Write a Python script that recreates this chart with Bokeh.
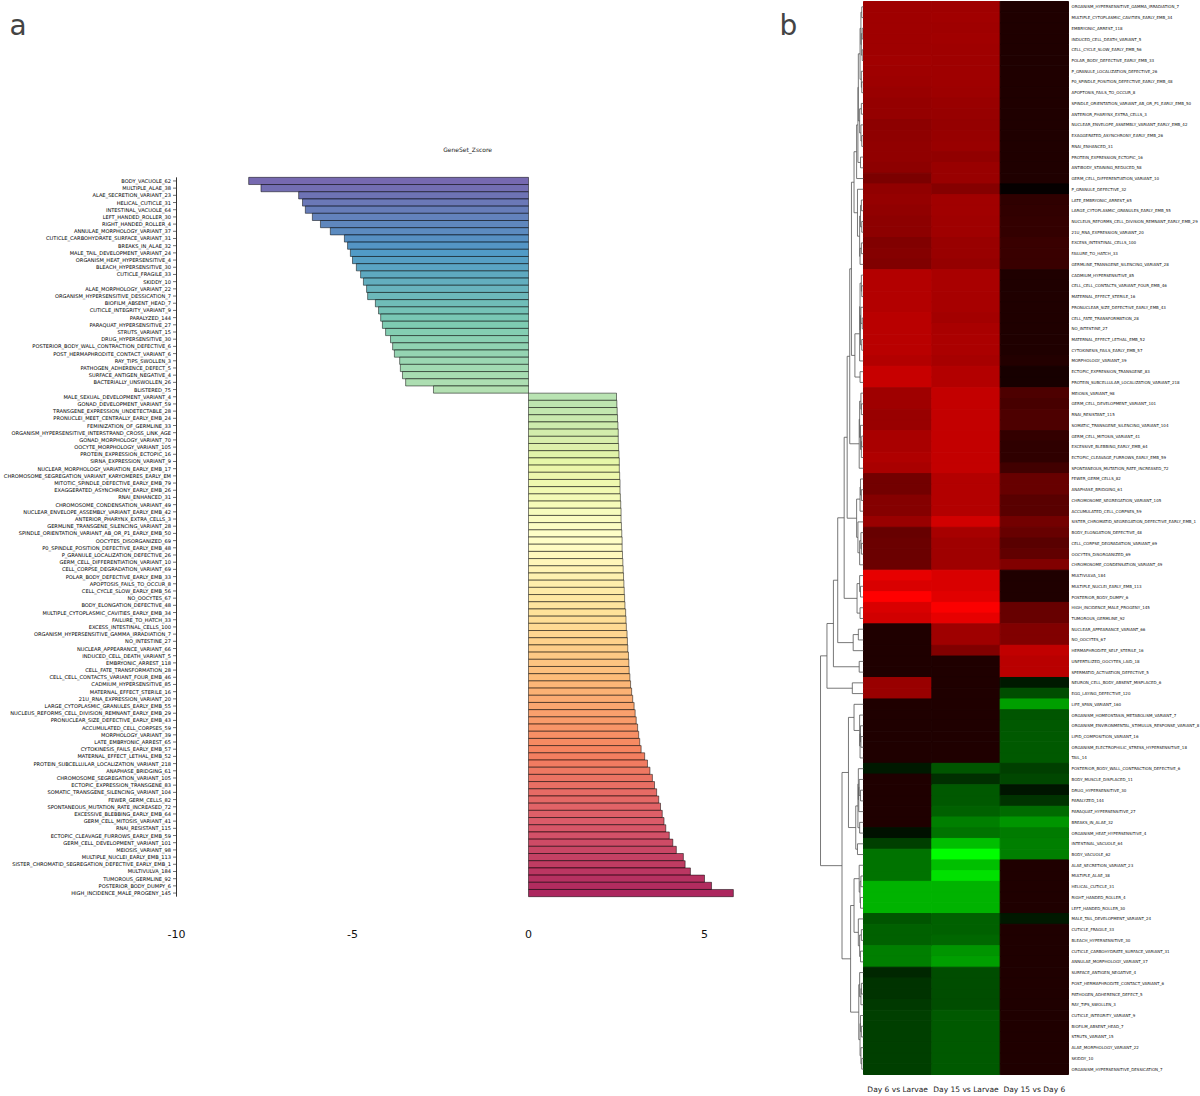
from bokeh.plotting import figure
from bokeh.layouts import row
from bokeh.models import Range1d, FixedTicker, Label, ColumnDataSource
from bokeh.transform import linear_cmap
from bokeh.core.properties import value
from bokeh.embed import file_html
from bokeh.resources import INLINE

# ---------------- panel a data ----------------
geneset_names = [
    "BODY_VACUOLE_62", "MULTIPLE_ALAE_38", "ALAE_SECRETION_VARIANT_23", "HELICAL_CUTICLE_31",
    "INTESTINAL_VACUOLE_64", "LEFT_HANDED_ROLLER_30", "RIGHT_HANDED_ROLLER_4",
    "ANNULAE_MORPHOLOGY_VARIANT_37", "CUTICLE_CARBOHYDRATE_SURFACE_VARIANT_31", "BREAKS_IN_ALAE_32",
    "MALE_TAIL_DEVELOPMENT_VARIANT_24", "ORGANISM_HEAT_HYPERSENSITIVE_4", "BLEACH_HYPERSENSITIVE_30",
    "CUTICLE_FRAGILE_33", "SKIDDY_10", "ALAE_MORPHOLOGY_VARIANT_22",
    "ORGANISM_HYPERSENSITIVE_DESSICATION_7", "BIOFILM_ABSENT_HEAD_7", "CUTICLE_INTEGRITY_VARIANT_9",
    "PARALYZED_144", "PARAQUAT_HYPERSENSITIVE_27", "STRUTS_VARIANT_15", "DRUG_HYPERSENSITIVE_30",
    "POSTERIOR_BODY_WALL_CONTRACTION_DEFECTIVE_6", "POST_HERMAPHRODITE_CONTACT_VARIANT_6",
    "RAY_TIPS_SWOLLEN_3", "PATHOGEN_ADHERENCE_DEFECT_5", "SURFACE_ANTIGEN_NEGATIVE_4",
    "BACTERIALLY_UNSWOLLEN_26", "BLISTERED_75", "MALE_SEXUAL_DEVELOPMENT_VARIANT_4",
    "GONAD_DEVELOPMENT_VARIANT_59", "TRANSGENE_EXPRESSION_UNDETECTABLE_28",
    "PRONUCLEI_MEET_CENTRALLY_EARLY_EMB_24", "FEMINIZATION_OF_GERMLINE_33",
    "ORGANISM_HYPERSENSITIVE_INTERSTRAND_CROSS_LINK_AGE", "GONAD_MORPHOLOGY_VARIANT_70",
    "OOCYTE_MORPHOLOGY_VARIANT_105", "PROTEIN_EXPRESSION_ECTOPIC_16", "SIRNA_EXPRESSION_VARIANT_9",
    "NUCLEAR_MORPHOLOGY_VARIATION_EARLY_EMB_17", "CHROMOSOME_SEGREGATION_VARIANT_KARYOMERES_EARLY_EM",
    "MITOTIC_SPINDLE_DEFECTIVE_EARLY_EMB_79", "EXAGGERATED_ASYNCHRONY_EARLY_EMB_26", "RNAI_ENHANCED_31",
    "CHROMOSOME_CONDENSATION_VARIANT_49", "NUCLEAR_ENVELOPE_ASSEMBLY_VARIANT_EARLY_EMB_42",
    "ANTERIOR_PHARYNX_EXTRA_CELLS_3", "GERMLINE_TRANSGENE_SILENCING_VARIANT_28",
    "SPINDLE_ORIENTATION_VARIANT_AB_OR_P1_EARLY_EMB_50", "OOCYTES_DISORGANIZED_69",
    "P0_SPINDLE_POSITION_DEFECTIVE_EARLY_EMB_48", "P_GRANULE_LOCALIZATION_DEFECTIVE_26",
    "GERM_CELL_DIFFERENTIATION_VARIANT_10", "CELL_CORPSE_DEGRADATION_VARIANT_69",
    "POLAR_BODY_DEFECTIVE_EARLY_EMB_33", "APOPTOSIS_FAILS_TO_OCCUR_8", "CELL_CYCLE_SLOW_EARLY_EMB_56",
    "NO_OOCYTES_67", "BODY_ELONGATION_DEFECTIVE_48", "MULTIPLE_CYTOPLASMIC_CAVITIES_EARLY_EMB_34",
    "FAILURE_TO_HATCH_33", "EXCESS_INTESTINAL_CELLS_100", "ORGANISM_HYPERSENSITIVE_GAMMA_IRRADIATION_7",
    "NO_INTESTINE_27", "NUCLEAR_APPEARANCE_VARIANT_66", "INDUCED_CELL_DEATH_VARIANT_5",
    "EMBRYONIC_ARREST_118", "CELL_FATE_TRANSFORMATION_28", "CELL_CELL_CONTACTS_VARIANT_FOUR_EMB_46",
    "CADMIUM_HYPERSENSITIVE_85", "MATERNAL_EFFECT_STERILE_16", "21U_RNA_EXPRESSION_VARIANT_20",
    "LARGE_CYTOPLASMIC_GRANULES_EARLY_EMB_55", "NUCLEUS_REFORMS_CELL_DIVISION_REMNANT_EARLY_EMB_29",
    "PRONUCLEAR_SIZE_DEFECTIVE_EARLY_EMB_43", "ACCUMULATED_CELL_CORPSES_59", "MORPHOLOGY_VARIANT_39",
    "LATE_EMBRYONIC_ARREST_65", "CYTOKINESIS_FAILS_EARLY_EMB_57", "MATERNAL_EFFECT_LETHAL_EMB_52",
    "PROTEIN_SUBCELLULAR_LOCALIZATION_VARIANT_218", "ANAPHASE_BRIDGING_61",
    "CHROMOSOME_SEGREGATION_VARIANT_105", "ECTOPIC_EXPRESSION_TRANSGENE_83",
    "SOMATIC_TRANSGENE_SILENCING_VARIANT_104", "FEWER_GERM_CELLS_82",
    "SPONTANEOUS_MUTATION_RATE_INCREASED_72", "EXCESSIVE_BLEBBING_EARLY_EMB_64",
    "GERM_CELL_MITOSIS_VARIANT_41", "RNAI_RESISTANT_115", "ECTOPIC_CLEAVAGE_FURROWS_EARLY_EMB_59",
    "GERM_CELL_DEVELOPMENT_VARIANT_101", "MEIOSIS_VARIANT_98", "MULTIPLE_NUCLEI_EARLY_EMB_113",
    "SISTER_CHROMATID_SEGREGATION_DEFECTIVE_EARLY_EMB_1", "MULTIVULVA_184", "TUMOROUS_GERMLINE_92",
    "POSTERIOR_BODY_DUMPY_6", "HIGH_INCIDENCE_MALE_PROGENY_145",
]

geneset_z = [
    -7.95, -7.60, -6.53, -6.42, -6.34, -6.14, -5.91, -5.63, -5.23, -5.14,
    -5.06, -5.00, -4.89, -4.77, -4.69, -4.60, -4.57, -4.35, -4.26, -4.20,
    -4.15, -4.06, -3.92, -3.86, -3.81, -3.66, -3.64, -3.58, -3.49, -2.70,
    2.50, 2.51, 2.52, 2.53, 2.54, 2.55, 2.55, 2.56, 2.57, 2.58,
    2.58, 2.59, 2.60, 2.60, 2.61, 2.62, 2.63, 2.63, 2.64, 2.65,
    2.66, 2.66, 2.67, 2.68, 2.69, 2.70, 2.71, 2.72, 2.73, 2.74,
    2.76, 2.77, 2.78, 2.80, 2.81, 2.82, 2.84, 2.85, 2.86, 2.88,
    2.90, 2.93, 2.96, 3.00, 3.03, 3.06, 3.10, 3.13, 3.16, 3.20,
    3.30, 3.38, 3.45, 3.52, 3.58, 3.64, 3.70, 3.75, 3.80, 3.85,
    3.90, 4.00, 4.10, 4.20, 4.40, 4.45, 4.60, 5.00, 5.20, 5.82,
]

zscore_ticks = [-10, -5, 0, 5]
zscore_tick_labels = ["-10", "-5", "0", "5"]

# ---------------- panel b data ----------------
heat_rows = [
    "ORGANISM_HYPERSENSITIVE_GAMMA_IRRADIATION_7", "MULTIPLE_CYTOPLASMIC_CAVITIES_EARLY_EMB_34",
    "EMBRYONIC_ARREST_118", "INDUCED_CELL_DEATH_VARIANT_5", "CELL_CYCLE_SLOW_EARLY_EMB_56",
    "POLAR_BODY_DEFECTIVE_EARLY_EMB_33", "P_GRANULE_LOCALIZATION_DEFECTIVE_26",
    "P0_SPINDLE_POSITION_DEFECTIVE_EARLY_EMB_48", "APOPTOSIS_FAILS_TO_OCCUR_8",
    "SPINDLE_ORIENTATION_VARIANT_AB_OR_P1_EARLY_EMB_50", "ANTERIOR_PHARYNX_EXTRA_CELLS_3",
    "NUCLEAR_ENVELOPE_ASSEMBLY_VARIANT_EARLY_EMB_42", "EXAGGERATED_ASYNCHRONY_EARLY_EMB_26",
    "RNAI_ENHANCED_31", "PROTEIN_EXPRESSION_ECTOPIC_16", "ANTIBODY_STAINING_REDUCED_58",
    "GERM_CELL_DIFFERENTIATION_VARIANT_10", "P_GRANULE_DEFECTIVE_32", "LATE_EMBRYONIC_ARREST_65",
    "LARGE_CYTOPLASMIC_GRANULES_EARLY_EMB_55", "NUCLEUS_REFORMS_CELL_DIVISION_REMNANT_EARLY_EMB_29",
    "21U_RNA_EXPRESSION_VARIANT_20", "EXCESS_INTESTINAL_CELLS_100", "FAILURE_TO_HATCH_33",
    "GERMLINE_TRANSGENE_SILENCING_VARIANT_28", "CADMIUM_HYPERSENSITIVE_85",
    "CELL_CELL_CONTACTS_VARIANT_FOUR_EMB_46", "MATERNAL_EFFECT_STERILE_16",
    "PRONUCLEAR_SIZE_DEFECTIVE_EARLY_EMB_43", "CELL_FATE_TRANSFORMATION_28", "NO_INTESTINE_27",
    "MATERNAL_EFFECT_LETHAL_EMB_52", "CYTOKINESIS_FAILS_EARLY_EMB_57", "MORPHOLOGY_VARIANT_39",
    "ECTOPIC_EXPRESSION_TRANSGENE_83", "PROTEIN_SUBCELLULAR_LOCALIZATION_VARIANT_218",
    "MEIOSIS_VARIANT_98", "GERM_CELL_DEVELOPMENT_VARIANT_101", "RNAI_RESISTANT_115",
    "SOMATIC_TRANSGENE_SILENCING_VARIANT_104", "GERM_CELL_MITOSIS_VARIANT_41",
    "EXCESSIVE_BLEBBING_EARLY_EMB_64", "ECTOPIC_CLEAVAGE_FURROWS_EARLY_EMB_59",
    "SPONTANEOUS_MUTATION_RATE_INCREASED_72", "FEWER_GERM_CELLS_82", "ANAPHASE_BRIDGING_61",
    "CHROMOSOME_SEGREGATION_VARIANT_105", "ACCUMULATED_CELL_CORPSES_59",
    "SISTER_CHROMATID_SEGREGATION_DEFECTIVE_EARLY_EMB_1", "BODY_ELONGATION_DEFECTIVE_48",
    "CELL_CORPSE_DEGRADATION_VARIANT_69", "OOCYTES_DISORGANIZED_69",
    "CHROMOSOME_CONDENSATION_VARIANT_49", "MULTIVULVA_184", "MULTIPLE_NUCLEI_EARLY_EMB_113",
    "POSTERIOR_BODY_DUMPY_6", "HIGH_INCIDENCE_MALE_PROGENY_145", "TUMOROUS_GERMLINE_92",
    "NUCLEAR_APPEARANCE_VARIANT_66", "NO_OOCYTES_67", "HERMAPHRODITE_SELF_STERILE_16",
    "UNFERTILIZED_OOCYTES_LAID_18", "SPERMATID_ACTIVATION_DEFECTIVE_5",
    "NEURON_CELL_BODY_ABSENT_MISPLACED_6", "EGG_LAYING_DEFECTIVE_120", "LIFE_SPAN_VARIANT_160",
    "ORGANISM_HOMEOSTASIS_METABOLISM_VARIANT_7", "ORGANISM_ENVIRONMENTAL_STIMULUS_RESPONSE_VARIANT_8",
    "LIPID_COMPOSITION_VARIANT_16", "ORGANISM_ELECTROPHILIC_STRESS_HYPERSENSITIVE_18", "TAIL_14",
    "POSTERIOR_BODY_WALL_CONTRACTION_DEFECTIVE_6", "BODY_MUSCLE_DISPLACED_11",
    "DRUG_HYPERSENSITIVE_30", "PARALYZED_144", "PARAQUAT_HYPERSENSITIVE_27", "BREAKS_IN_ALAE_32",
    "ORGANISM_HEAT_HYPERSENSITIVE_4", "INTESTINAL_VACUOLE_64", "BODY_VACUOLE_62",
    "ALAE_SECRETION_VARIANT_23", "MULTIPLE_ALAE_38", "HELICAL_CUTICLE_31", "RIGHT_HANDED_ROLLER_4",
    "LEFT_HANDED_ROLLER_30", "MALE_TAIL_DEVELOPMENT_VARIANT_24", "CUTICLE_FRAGILE_33",
    "BLEACH_HYPERSENSITIVE_30", "CUTICLE_CARBOHYDRATE_SURFACE_VARIANT_31",
    "ANNULAE_MORPHOLOGY_VARIANT_37", "SURFACE_ANTIGEN_NEGATIVE_4",
    "POST_HERMAPHRODITE_CONTACT_VARIANT_6", "PATHOGEN_ADHERENCE_DEFECT_5", "RAY_TIPS_SWOLLEN_3",
    "CUTICLE_INTEGRITY_VARIANT_9", "BIOFILM_ABSENT_HEAD_7", "STRUTS_VARIANT_15",
    "ALAE_MORPHOLOGY_VARIANT_22", "SKIDDY_10", "ORGANISM_HYPERSENSITIVE_DESSICATION_7",
]

heat_columns = ["Day 6 vs Larvae", "Day 15 vs Larvae", "Day 15 vs Day 6"]

day6_vs_larvae = [
    0.62, 0.62, 0.62, 0.62, 0.62, 0.63, 0.62, 0.61, 0.60, 0.58,
    0.58, 0.55, 0.56, 0.57, 0.57, 0.55, 0.48, 0.57, 0.58, 0.57,
    0.55, 0.55, 0.50, 0.52, 0.50, 0.70, 0.70, 0.70, 0.70, 0.72,
    0.72, 0.72, 0.72, 0.70, 0.78, 0.78, 0.62, 0.62, 0.60, 0.60,
    0.66, 0.66, 0.68, 0.66, 0.45, 0.45, 0.52, 0.52, 0.60, 0.40,
    0.42, 0.42, 0.42, 0.90, 0.85, 1.00, 0.85, 0.82, 0.12, 0.12,
    0.12, 0.12, 0.12, 0.60, 0.60, 0.12, 0.12, 0.12, 0.12, 0.12,
    0.12, -0.10, 0.12, 0.12, 0.12, 0.12, 0.12, -0.07, -0.25, -0.45,
    -0.45, -0.45, -0.70, -0.70, -0.70, -0.33, -0.38, -0.38, -0.50, -0.50,
    -0.15, -0.20, -0.20, -0.22, -0.25, -0.25, -0.25, -0.25, -0.25, -0.25,
]
day15_vs_larvae = [
    0.62, 0.63, 0.62, 0.63, 0.62, 0.62, 0.62, 0.62, 0.61, 0.60,
    0.59, 0.58, 0.59, 0.60, 0.57, 0.60, 0.60, 0.52, 0.63, 0.63,
    0.62, 0.62, 0.60, 0.60, 0.58, 0.66, 0.66, 0.65, 0.65, 0.64,
    0.66, 0.67, 0.67, 0.65, 0.70, 0.70, 0.76, 0.76, 0.76, 0.76,
    0.76, 0.76, 0.76, 0.76, 0.70, 0.70, 0.70, 0.70, 0.82, 0.65,
    0.62, 0.62, 0.62, 0.85, 0.85, 0.88, 0.98, 0.90, 0.62, 0.62,
    0.50, 0.12, 0.12, 0.12, 0.12, 0.12, 0.12, 0.12, 0.12, 0.12,
    0.12, -0.33, -0.18, -0.35, -0.35, -0.38, -0.50, -0.45, -0.75, -1.00,
    -0.75, -0.88, -0.70, -0.70, -0.70, -0.38, -0.38, -0.40, -0.58, -0.62,
    -0.30, -0.30, -0.30, -0.30, -0.35, -0.35, -0.35, -0.35, -0.35, -0.35,
]
day15_vs_day6 = [
    0.12, 0.12, 0.12, 0.12, 0.12, 0.12, 0.12, 0.12, 0.12, 0.12,
    0.12, 0.12, 0.12, 0.12, 0.12, 0.12, 0.12, 0.02, 0.18, 0.19,
    0.20, 0.20, 0.22, 0.22, 0.22, 0.12, 0.12, 0.12, 0.12, 0.12,
    0.12, 0.12, 0.12, 0.14, 0.09, 0.09, 0.30, 0.28, 0.30, 0.30,
    0.20, 0.18, 0.18, 0.25, 0.40, 0.40, 0.35, 0.35, 0.45, 0.40,
    0.35, 0.38, 0.50, 0.12, 0.12, 0.12, 0.40, 0.40, 0.50, 0.50,
    0.75, 0.72, 0.72, -0.10, -0.30, -0.62, -0.33, -0.35, -0.35, -0.35,
    -0.35, -0.25, -0.28, -0.08, -0.20, -0.42, -0.58, -0.48, -0.50, -0.50,
    0.12, 0.12, 0.12, 0.12, 0.12, -0.10, 0.12, 0.12, 0.12, 0.12,
    0.12, 0.12, 0.12, 0.12, 0.12, 0.12, 0.12, 0.12, 0.12, 0.12,
]

# cophenetic height at which row i and row i+1 join in the row dendrogram
gap_heights = [
    0.4, 0.6, 0.3, 0.5, 0.3, 0.8, 0.5, 0.4, 1.2, 0.5, 0.9, 0.6, 0.4, 1.3, 0.7, 1.6,
    2.2,
    1.4, 0.5, 0.7, 0.4, 0.9, 0.5, 0.8,
    2.8,
    0.5, 0.4, 0.8, 0.6, 0.3, 0.7, 0.4, 0.9,
    2.0, 0.8, 3.2,
    0.6, 0.5, 0.9, 0.7, 0.4, 0.5, 1.0,
    3.8,
    0.7, 0.5, 0.8, 1.6, 1.3, 0.6, 0.5, 0.9,
    4.5,
    0.9, 0.7, 1.5, 0.8,
    6.0,
    1.2, 2.4,
    7.0,
    1.0,
    8.5,
    2.6,
    10.0,
    2.2, 0.9, 0.7, 0.6, 0.8,
    3.5,
    1.2, 1.0, 0.7, 1.1, 1.3, 0.9, 1.8, 1.4,
    5.0,
    1.0, 0.6, 0.8, 0.7,
    2.2,
    1.2, 0.5, 0.9, 0.7,
    3.0,
    0.9, 0.5, 0.6, 1.1, 0.7, 0.5, 0.8, 0.6, 0.4,
]

# ---------------- styles ----------------
SPECTRAL = ['#5e4fa2', '#3288bd', '#66c2a5', '#abdda4', '#e6f598', '#ffffbf',
            '#fee08b', '#fdae61', '#f46d43', '#d53e4f', '#9e0142']
FONT = "DejaVu Sans"


def interp_colors(pal, n):
    rgb = [tuple(int(c[i:i + 2], 16) for i in (1, 3, 5)) for c in pal]
    out = []
    for k in range(n):
        t = k / (n - 1) * (len(rgb) - 1)
        i = min(int(t), len(rgb) - 2)
        f = t - i
        c = [round(rgb[i][j] + (rgb[i + 1][j] - rgb[i][j]) * f) for j in range(3)]
        out.append('#%02x%02x%02x' % tuple(c))
    return out


def red_green_palette(n=256):
    pal = []
    for i in range(n):
        t = -1 + 2 * i / (n - 1)
        if t < 0:
            pal.append('#00%02x00' % round(-t * 255))
        else:
            pal.append('#%02x0000' % round(t * 255))
    return pal


FIG_H = 1096
BOTTOM = 14          # room for the column labels of panel b (shared by both panels)
FRAME_H = FIG_H - BOTTOM

# ---------------- panel a ----------------
W1 = 775
PX_PER_Z = 35.2      # pixels per z unit
PX_PER_BAR = 7.24    # pixels per bar
AXIS_PX = 176        # y-axis position inside the panel (pixels from the left)
BAR_TOP_PX = 178     # top edge of the first bar (pixels from the top)

x1_start = -10 - AXIS_PX / PX_PER_Z
x1_end = x1_start + W1 / PX_PER_Z
y1_top = -0.5 - BAR_TOP_PX / PX_PER_BAR
y1_bottom = y1_top + FRAME_H / PX_PER_BAR

n_bars = len(geneset_names)
bar_pos = list(range(n_bars))
bar_src = ColumnDataSource(dict(y=bar_pos, z=geneset_z, color=interp_colors(SPECTRAL, n_bars)))

p1 = figure(width=W1, height=FIG_H, x_range=Range1d(x1_start, x1_end),
            y_range=Range1d(y1_bottom, y1_top), output_backend="svg", toolbar_location=None,
            min_border_left=0, min_border_right=0, min_border_top=0, min_border_bottom=BOTTOM)
p1.axis.visible = False
p1.xgrid.visible = False
p1.ygrid.visible = False
p1.outline_line_color = None

p1.hbar(y='y', left=0, right='z', height=1.0, fill_color='color', fill_alpha=0.85,
        line_color='black', line_width=0.5, source=bar_src)

# left spine with outward ticks and gene-set labels
p1.segment(x0=[-10], y0=[-0.5], x1=[-10], y1=[n_bars - 0.5], line_color="#333333", line_width=1)
p1.segment(x0=[-10 - 3.5 / PX_PER_Z] * n_bars, y0=bar_pos, x1=[-10] * n_bars, y1=bar_pos,
           line_color="#333333", line_width=0.7)
p1.text(x=[-10 - 5.5 / PX_PER_Z] * n_bars, y=bar_pos, text=geneset_names, text_font=value(FONT),
        text_font_size="5.1px", text_align="right", text_baseline="middle", text_color="#000000")

# x tick labels
p1.text(x=zscore_ticks, y=[n_bars - 0.5 + 38 / PX_PER_BAR] * len(zscore_ticks), text=zscore_tick_labels,
        text_font=value(FONT), text_font_size="11px", text_align="center", text_baseline="middle",
        text_color="#111111")

p1.add_layout(Label(x=-1.73, y=-0.5 - 28 / PX_PER_BAR, text="GeneSet_Zscore", text_font=FONT,
                    text_font_size="6px", text_align="center", text_baseline="middle",
                    text_color="#222222"))
p1.add_layout(Label(x=x1_start + 9 / PX_PER_Z, y=y1_top + 25 / PX_PER_BAR, text="a", text_font=FONT,
                    text_font_size="28px", text_align="left", text_baseline="alphabetic"))

# ---------------- panel b ----------------
W2 = 1200 - W1
PX_PER_COL = 68.33
HEAT_LEFT_PX = 88    # heat map left edge, pixels from the panel's left
PX_PER_ROW = 10.8
HEAT_TOP_PX = 1

x2_start = -HEAT_LEFT_PX / PX_PER_COL
x2_end = x2_start + W2 / PX_PER_COL
n_rows = len(heat_rows)
row_pos = list(range(n_rows))
y2_top = -0.5 - HEAT_TOP_PX / PX_PER_ROW
y2_bottom = y2_top + FRAME_H / PX_PER_ROW

cells = dict(x=[], y=[], v=[])
for j, col in enumerate([day6_vs_larvae, day15_vs_larvae, day15_vs_day6]):
    for i, v in enumerate(col):
        cells['x'].append(j + 0.5)
        cells['y'].append(i)
        cells['v'].append(v)
cell_src = ColumnDataSource(cells)

p2 = figure(width=W2, height=FIG_H, x_range=Range1d(x2_start, x2_end),
            y_range=Range1d(y2_bottom, y2_top), output_backend="svg", toolbar_location=None,
            min_border_left=0, min_border_right=0, min_border_top=0, min_border_bottom=BOTTOM)
cmap = linear_cmap('v', red_green_palette(), -1, 1)
p2.rect(x='x', y='y', width=1, height=1, fill_color=cmap, line_color=cmap, line_width=1.0,
        source=cell_src)

p2.text(x=[3 + 3 / PX_PER_COL] * n_rows, y=row_pos, text=heat_rows, text_font=value(FONT),
        text_font_size="4.0px", text_baseline="middle", text_align="left", text_color="#111111")

# dendrogram from adjacent-join heights
DEND_SCALE = 0.0629
xs, ys = [], []


def build(lo, hi):
    if lo == hi:
        return float(lo), 0.0
    k = max(range(lo, hi), key=lambda q: gap_heights[q])
    ly, lh = build(lo, k)
    ry, rh = build(k + 1, hi)
    h = gap_heights[k]
    xs.append([-lh * DEND_SCALE, -h * DEND_SCALE, -h * DEND_SCALE, -rh * DEND_SCALE])
    ys.append([ly, ly, ry, ry])
    return (ly + ry) / 2, h


build(0, n_rows - 1)
p2.multi_line(xs=xs, ys=ys, line_color="#555555", line_width=0.8)

p2.xgrid.visible = False
p2.ygrid.visible = False
p2.outline_line_color = None
p2.yaxis.visible = False
p2.xaxis.ticker = FixedTicker(ticks=[0.5, 1.5, 2.5])
p2.xaxis.major_label_overrides = {0.5: heat_columns[0], 1.5: heat_columns[1], 2.5: heat_columns[2]}
p2.xaxis.major_label_text_font = FONT
p2.xaxis.major_label_text_font_size = "7.5px"
p2.xaxis.major_label_text_color = "#222222"
p2.xaxis.axis_line_color = None
p2.xaxis.major_tick_line_color = None
p2.xaxis.minor_tick_line_color = None
p2.xaxis.major_label_standoff = 3

p2.add_layout(Label(x=x2_start + 4 / PX_PER_COL, y=y2_top + 25 / PX_PER_ROW, text="b", text_font=FONT,
                    text_font_size="28px", text_align="left", text_baseline="alphabetic"))

layout = row(p1, p2)
open("out.html", "w").write(file_html(layout, INLINE))
